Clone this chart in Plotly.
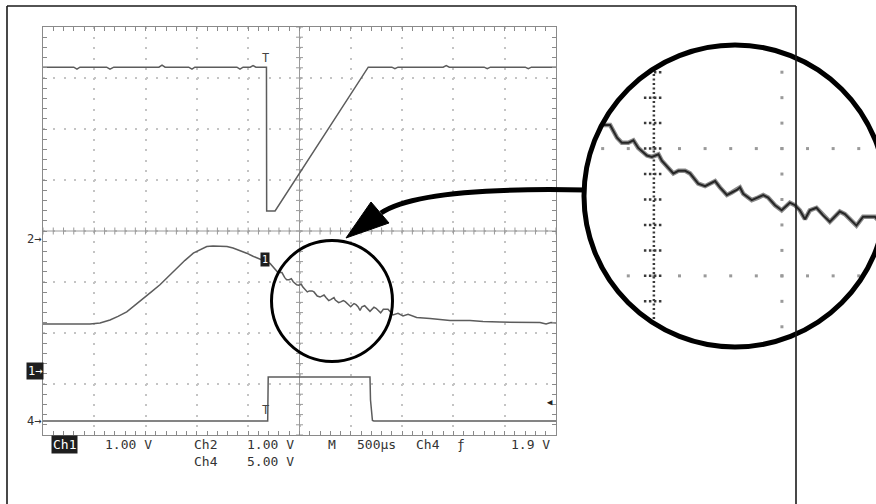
import numpy as np
import plotly.graph_objects as go

W, H = 876, 504

# ---------------- acquisition settings ----------------
US_PER_DIV = 500                      # M 500µs
DIVS_X, DIVS_Y = 10, 8
VOLTS_PER_DIV = {"ch1": 1.0, "ch2": 1.0, "ch4": 5.0}
TRIG_LEVEL_V = 1.9                    # Ch4 rising edge

# ---------------- waveform records ----------------
# time in µs from the left edge of the screen, amplitude in volts
ch1_t = [0, 458, 556, 653, 731, 816, 897, 978, 1062, 1140, 1218, 1303, 1384, 1465, 1530,
         1596, 1657, 1725, 1793, 1852, 1920, 1985, 2047, 2115, 2213,
         2290, 2329, 2356, 2375, 2400, 2420, 2439, 2473, 2492, 2505, 2518, 2531, 2557,
         2576, 2596, 2622, 2641, 2673, 2700, 2726, 2739, 2758, 2785, 2804, 2824, 2836,
         2849, 2882, 2907, 2927, 2946, 2973, 2999, 3018, 3031, 3051, 3070, 3090, 3109,
         3135, 3161, 3187, 3226, 3246, 3291, 3317, 3363, 3411, 3460, 3509, 3558, 3642,
         3772, 3967, 4162, 4289, 4454, 4617, 4844, 4903, 4951, 5000]
ch1_v = [0.92, 0.92, 0.94, 1.00, 1.07, 1.16, 1.29, 1.43, 1.56, 1.69, 1.85, 2.01, 2.17, 2.31, 2.38,
         2.44, 2.45, 2.45, 2.44, 2.41, 2.36, 2.31, 2.25, 2.19, 2.11,
         1.93, 1.93, 1.83, 1.79, 1.79, 1.81, 1.75, 1.69, 1.68, 1.69, 1.70, 1.65, 1.59,
         1.55, 1.57, 1.57, 1.55, 1.47, 1.45, 1.48, 1.49, 1.44, 1.38, 1.40, 1.42, 1.44,
         1.39, 1.34, 1.36, 1.38, 1.36, 1.30, 1.26, 1.30, 1.32, 1.30, 1.26, 1.19, 1.26,
         1.28, 1.22, 1.17, 1.25, 1.23, 1.14, 1.21, 1.21, 1.10, 1.13, 1.08, 1.11, 1.05,
         1.03, 0.99, 0.99, 0.97, 0.96, 0.95, 0.95, 0.92, 0.95, 0.94]

ch2_t = [0, 300, 331, 360, 620, 653, 690, 1130, 1160, 1190, 1420, 1452, 1480, 1890, 1920,
         1950, 2020, 2047, 2075, 2178, 2180, 2262, 3170, 3400, 3430, 3460, 3900, 3930,
         3960, 4300, 4330, 4360, 4700, 4730, 4760, 5000]
ch2_v = [3.37, 3.37, 3.33, 3.37, 3.37, 3.33, 3.37, 3.37, 3.41, 3.37, 3.37, 3.33, 3.37, 3.37,
         3.33, 3.37, 3.37, 3.40, 3.37, 3.37, 0.55, 0.55, 3.37, 3.37, 3.34, 3.37, 3.37, 3.40,
         3.37, 3.37, 3.34, 3.37, 3.37, 3.34, 3.37, 3.37]

ch4_t = [0, 2190, 2195, 3187, 3192, 3211, 3225, 5000]
ch4_v = [0.05, 0.05, 4.36, 4.36, 2.10, 0.10, 0.05, 0.05]

# readout text
readout = {
    "ch1_tag": "Ch1", "ch1_scale": "1.00 V",
    "ch2_tag": "Ch2", "ch2_scale": "1.00 V",
    "ch4_tag": "Ch4", "ch4_scale": "5.00 V",
    "m_tag": "M", "timebase": "500µs",
    "trig_src": "Ch4", "trig_slope": "ƒ", "trig_level": "1.9 V",
}

# ---------------- screen geometry (px) ----------------
GX0, GX1, GY0, GY1 = 43, 556, 27, 435
GCY = (GY0 + GY1) / 2
PX_PER_DIV_Y = (GY1 - GY0) / DIVS_Y
PX_PER_DIV_X = (GX1 - GX0) / DIVS_X
GROUND_DIV = {"ch1": -2.745, "ch2": -0.157, "ch4": -3.735}

# magnifier: small lens on screen, big lens on the right
LENS_X, LENS_Y, LENS_R = 332, 301, 60.5
BIG_X, BIG_Y, BIG_R = 735, 196, 151
MAG = BIG_R / LENS_R


def px(x):
    return x / W


def py(y):
    return 1 - y / H


def t_of_px(x):
    return (x - GX0) / PX_PER_DIV_X * US_PER_DIV


def div_of_py(y):
    return (GCY - y) / PX_PER_DIV_Y


def to_div(ch, volts):
    return [GROUND_DIV[ch] + v / VOLTS_PER_DIV[ch] for v in volts]


TMAX = DIVS_X * US_PER_DIV
fig = go.Figure()

# ---------------- main screen traces ----------------
trace_style = dict(color="#5c5c5c", width=1.5)
for ch, t, v in (("ch2", ch2_t, ch2_v), ("ch1", ch1_t, ch1_v), ("ch4", ch4_t, ch4_v)):
    fig.add_trace(go.Scatter(x=t, y=to_div(ch, v), mode="lines", line=trace_style,
                             xaxis="x", yaxis="y", hoverinfo="skip"))

# ---------------- magnified view ----------------
ins_x0, ins_x1 = BIG_X - BIG_R, W
ins_y0, ins_y1 = BIG_Y - BIG_R, BIG_Y + BIG_R


def src_x(X):
    return LENS_X + (X - BIG_X) / MAG


def src_y(Y):
    return LENS_Y + (Y - BIG_Y) / MAG


inset_xrange = [t_of_px(src_x(ins_x0)), t_of_px(src_x(ins_x1))]
inset_yrange = [div_of_py(src_y(ins_y1)), div_of_py(src_y(ins_y0))]

minor_t = np.arange(0, TMAX + 1, US_PER_DIV / 5)
minor_d = np.arange(-DIVS_Y / 2, DIVS_Y / 2 + 0.01, 0.2)
gx, gy = [], []
for d in range(-4, 5):
    gx += list(minor_t)
    gy += [d] * len(minor_t)
for t in np.arange(0, TMAX + 1, US_PER_DIV):
    if t == TMAX / 2:
        continue
    gx += [t] * len(minor_d)
    gy += list(minor_d)
fig.add_trace(go.Scatter(x=gx, y=gy, mode="markers", xaxis="x2", yaxis="y2",
                         marker=dict(symbol="square", size=3, color="#9a9a9a"),
                         hoverinfo="skip"))

# dotted centre column with its cross bars
fig.add_trace(go.Scatter(x=[TMAX / 2, TMAX / 2], y=[-4, 4], mode="lines", xaxis="x2", yaxis="y2",
                         line=dict(color="#3a3a3a", width=2.5, dash="2px,2.5px"),
                         hoverinfo="skip"))
half_bar = 4 / PX_PER_DIV_X * US_PER_DIV
bx, by = [], []
for d in minor_d:
    bx += [TMAX / 2 - half_bar, TMAX / 2 + half_bar, None]
    by += [d, d, None]
fig.add_trace(go.Scatter(x=bx, y=by, mode="lines", xaxis="x2", yaxis="y2",
                         line=dict(color="#3a3a3a", width=2.5, dash="2.5px,2.5px"),
                         hoverinfo="skip"))

ch1_div = to_div("ch1", ch1_v)
fig.add_trace(go.Scatter(x=ch1_t, y=ch1_div, mode="lines", xaxis="x2", yaxis="y2",
                         line=dict(color="#8c8c8c", width=4.5), hoverinfo="skip"))
fig.add_trace(go.Scatter(x=ch1_t, y=ch1_div, mode="lines", xaxis="x2", yaxis="y2",
                         line=dict(color="#262626", width=2), hoverinfo="skip"))

# ---------------- shapes ----------------
shapes = []

# centre cross of the graticule with its minor marks
bar_d = 3.5 / PX_PER_DIV_Y
bar_t = 3.5 / PX_PER_DIV_X * US_PER_DIV
cross = f"M0,0 L{TMAX},0 M{TMAX/2},-4 L{TMAX/2},4 "
cross += " ".join(f"M{t:.1f},{-bar_d:.4f} L{t:.1f},{bar_d:.4f}" for t in minor_t)
cross += " " + " ".join(f"M{TMAX/2 - bar_t:.1f},{d:.3f} L{TMAX/2 + bar_t:.1f},{d:.3f}" for d in minor_d)
shapes.append(dict(type="path", xref="x", yref="y", path=cross, layer="between",
                   line=dict(color="#9a9a9a", width=1)))

# small lens
shapes.append(dict(type="circle", xref="paper", yref="paper",
                   x0=px(LENS_X - LENS_R), x1=px(LENS_X + LENS_R),
                   y0=py(LENS_Y + LENS_R), y1=py(LENS_Y - LENS_R),
                   line=dict(color="black", width=3), layer="above"))


def P(x, y):
    return f"{px(x):.5f},{py(y):.5f}"


# white corners round the big lens so the magnified view looks round
k = 0.5523 * BIG_R
e = 4
mask = []
for sx, sy in ((-1, -1), (1, -1), (1, 1), (-1, 1)):
    mask.append(
        f"M{P(BIG_X + sx*(BIG_R+e), BIG_Y)} L{P(BIG_X + sx*BIG_R, BIG_Y)} "
        f"C{P(BIG_X + sx*BIG_R, BIG_Y + sy*k)} {P(BIG_X + sx*k, BIG_Y + sy*BIG_R)} "
        f"{P(BIG_X, BIG_Y + sy*BIG_R)} L{P(BIG_X, BIG_Y + sy*(BIG_R+e))} "
        f"L{P(BIG_X + sx*(BIG_R+e), BIG_Y + sy*(BIG_R+e))} Z")
shapes.append(dict(type="path", xref="paper", yref="paper", path=" ".join(mask),
                   fillcolor="white", line=dict(width=0), layer="above"))

shapes.append(dict(type="circle", xref="paper", yref="paper",
                   x0=px(BIG_X - BIG_R), x1=px(BIG_X + BIG_R),
                   y0=py(BIG_Y + BIG_R), y1=py(BIG_Y - BIG_R),
                   line=dict(color="black", width=5), layer="above"))

# pointer from the big lens to the small one
shapes.append(dict(type="path", xref="paper", yref="paper",
                   path=f"M{P(586, 190)} C{P(490, 188)} {P(410, 193)} {P(381, 213)}",
                   fillcolor="rgba(0,0,0,0)", line=dict(color="black", width=5), layer="above"))
shapes.append(dict(type="path", xref="paper", yref="paper",
                   path=f"M{P(346, 238)} L{P(371, 202)} L{P(389, 223)} Z",
                   fillcolor="black", line=dict(color="black", width=1), layer="above"))

# page frame
for x0, y0, x1, y1 in ((7, 6, 796, 6), (7, 6, 7, 510), (796, 6, 796, 510)):
    shapes.append(dict(type="line", xref="paper", yref="paper",
                       x0=px(x0), y0=py(y0), x1=px(x1), y1=py(y1),
                       line=dict(color="#1a1a1a", width=1.6), layer="above"))

# ---------------- annotations ----------------
MONO = "DejaVu Sans Mono"
ann = []


def text(x, y, s, size=13, color="#333", bg=None, xanchor="center", xref="paper", yref="paper",
         pad=1, yanchor="middle"):
    d = dict(x=x, y=y, xref=xref, yref=yref, text=s, showarrow=False, xanchor=xanchor,
             yanchor=yanchor, font=dict(family=MONO, size=size, color=color), borderpad=pad)
    if bg:
        d["bgcolor"] = bg
    ann.append(d)


R1 = 444
text(px(64), py(R1), readout["ch1_tag"], color="white", bg="#1e1e1e", pad=1)
text(px(128), py(R1), readout["ch1_scale"])
# two-line blocks: Ch2 above Ch4
text(px(206), py(436), readout["ch2_tag"] + "<br>" + readout["ch4_tag"], yanchor="top", pad=0)
text(px(270), py(436), readout["ch2_scale"] + "<br>" + readout["ch4_scale"], yanchor="top", pad=0)
text(px(332), py(R1), readout["m_tag"])
text(px(376), py(R1), readout["timebase"])
text(px(428), py(R1), readout["trig_src"])
text(px(461), py(R1), readout["trig_slope"])
text(px(530), py(R1), readout["trig_level"])

# ground markers on the left edge
text(px(GX0), GROUND_DIV["ch2"], "2→", size=12, xanchor="right", yref="y")
text(px(GX0 + 1), GROUND_DIV["ch1"], "1→", size=12, color="white", bg="#1e1e1e",
     xanchor="right", yref="y")
text(px(GX0), GROUND_DIV["ch4"], "4→", size=12, xanchor="right", yref="y")

# trigger level and trigger position marks
text(px(GX1 - 1), GROUND_DIV["ch4"] + TRIG_LEVEL_V / VOLTS_PER_DIV["ch4"], "◀", size=9,
     color="#222", xanchor="right", yref="y")
text(2170, GROUND_DIV["ch2"] + ch2_v[0], "T", size=12, xref="x", yref="y", yanchor="bottom",
     color="#444")
text(2170, GROUND_DIV["ch4"] + ch4_v[0], "T", size=12, xref="x", yref="y", yanchor="bottom",
     color="#444")
# channel 1 waveform tag
text(px(265), py(259), "1", size=10, color="white", bg="#1e1e1e")

axis_common = dict(showticklabels=False, zeroline=False, showline=True, linecolor="#8a8a8a",
                   linewidth=1.2, mirror="allticks", ticks="inside", ticklen=4,
                   tickcolor="#8a8a8a", tickwidth=1, showgrid=True, gridcolor="#c4c4c4",
                   gridwidth=2)

fig.update_layout(
    width=W, height=H, margin=dict(l=0, r=0, t=0, b=0),
    paper_bgcolor="white", plot_bgcolor="white", showlegend=False, hovermode=False,
    xaxis=dict(domain=[px(GX0), px(GX1)], range=[0, TMAX], dtick=US_PER_DIV,
               griddash="2px,8.2px",
               minor=dict(dtick=US_PER_DIV / 5, ticks="inside", ticklen=4, tickcolor="#8a8a8a",
                          showgrid=False),
               **axis_common),
    yaxis=dict(domain=[py(GY1), py(GY0)], range=[-DIVS_Y / 2, DIVS_Y / 2], dtick=1,
               griddash="2px,8.26px",
               minor=dict(dtick=0.2, ticks="inside", ticklen=4, tickcolor="#8a8a8a",
                          showgrid=False),
               **axis_common),
    xaxis2=dict(domain=[px(ins_x0), 1.0], range=inset_xrange, visible=False, anchor="y2"),
    yaxis2=dict(domain=[py(ins_y1), py(ins_y0)], range=inset_yrange, visible=False, anchor="x2"),
    shapes=shapes,
    annotations=ann,
)

fig.write_html("out.html")
